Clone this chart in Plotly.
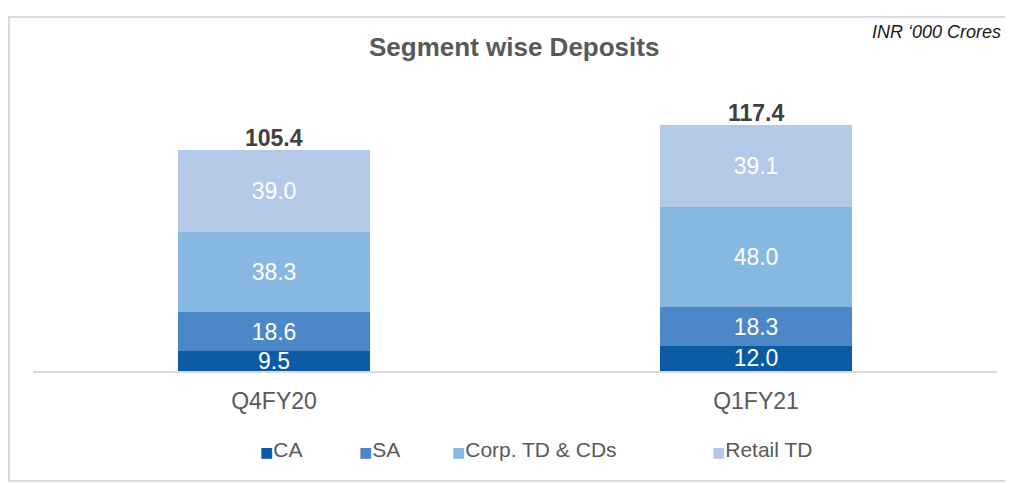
import plotly.graph_objects as go

quarters = ["Q4FY20", "Q1FY21"]
ca = [9.5, 12.0]
sa = [18.6, 18.3]
corp_td = [38.3, 48.0]
retail_td = [39.0, 39.1]
totals = [105.4, 117.4]

series = [
    ("CA", ca, "#0b5aa5"),
    ("SA", sa, "#4c87c7"),
    ("Corp. TD & CDs", corp_td, "#86b8e1"),
    ("Retail TD", retail_td, "#b4c8e8"),
]
legend_x = [0.2334, 0.3361, 0.4326, 0.7023]

FONT = "Liberation Sans, Arial, sans-serif"

fig = go.Figure()
for name, vals, color in series:
    fig.add_trace(go.Bar(
        x=quarters, y=vals, name=name,
        marker=dict(color=color, line=dict(width=0)),
        text=[f"{v:.1f}" for v in vals],
        textposition="inside", insidetextanchor="middle",
        textfont=dict(color="white", size=23, family=FONT),
    ))

for q, t in zip(quarters, totals):
    fig.add_annotation(x=q, y=t, text=f"<b>{t:.1f}</b>", showarrow=False,
                       yanchor="bottom", yshift=-3,
                       font=dict(size=23, color="#404040", family=FONT))

# legend drawn as text so the small square markers sit close to the labels
for (name, vals, color), lx in zip(series, legend_x):
    fig.add_annotation(xref="paper", yref="paper", x=lx, y=-0.3015,
                       xanchor="left", yanchor="middle", showarrow=False,
                       text=f"<span style='color:{color};font-size:14px;font-family:DejaVu Sans'>■</span>{name}",
                       font=dict(size=21, color="#595959", family=FONT))

fig.add_annotation(xref="paper", yref="paper", x=0.499, y=1.237,
                   xanchor="center", yanchor="middle",
                   text="<b>Segment wise Deposits</b>", showarrow=False,
                   font=dict(size=26, color="#595959", family=FONT))
fig.add_annotation(xref="paper", yref="paper", x=1.006, y=1.294,
                   xanchor="right", yanchor="middle",
                   text="<i>INR ‘000 Crores</i>", showarrow=False,
                   font=dict(size=18, color="#1a1a1a", family=FONT))

# outer frame
fig.add_shape(type="rect", xref="paper", yref="paper",
              x0=-0.0249, x1=1.03, y0=-0.42, y1=1.351,
              line=dict(color="#d9d9d9", width=2), layer="below")

fig.update_layout(
    barmode="stack", bargap=0.6,
    width=1013, height=483,
    margin=dict(l=25, r=24, t=101, b=120),
    plot_bgcolor="white", paper_bgcolor="white",
    font=dict(family=FONT, color="#595959"),
    uniformtext=dict(minsize=23, mode="show"),
    showlegend=False,
    xaxis=dict(showline=True, linecolor="#d9d9d9", linewidth=2,
               tickfont=dict(size=23, color="#595959"), ticks="",
               ticklabelstandoff=8),
    yaxis=dict(range=[0, 125], visible=False, showgrid=False),
)

fig.write_html("out.html")
